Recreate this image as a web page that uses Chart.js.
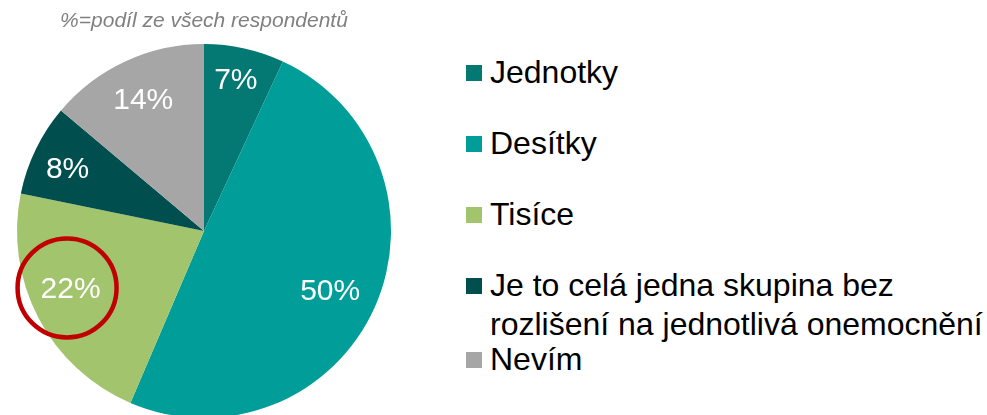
<!DOCTYPE html>
<html lang="cs">
<head>
<meta charset="utf-8">
<script src="https://cdn.jsdelivr.net/npm/chart.js@4"></script>
<style>
  html, body { margin: 0; padding: 0; background: #fff; }
  body { width: 987px; height: 415px; position: relative; overflow: hidden; font-family: Arial, "Liberation Sans", sans-serif; }
  #wrap { position: absolute; left: 0; top: 0; width: 408px; height: 420px; }
  #poznamka { position: absolute; left: 0; width: 408px; top: 8px; text-align: center; font-style: italic; font-size: 21px; color: #808080; }
  #legenda { position: absolute; left: 466px; top: 0; }
  .polozka { position: absolute; left: 0; white-space: nowrap; font-size: 32px; color: #000; line-height: 39px; }
  .ctverec { position: absolute; left: 0; top: 12px; width: 16px; height: 16px; }
  .text { margin-left: 24px; }
</style>
</head>
<body>
<div id="wrap"><canvas id="kolac" width="408" height="420"></canvas></div>
<div id="poznamka">%=podíl ze všech respondentů</div>
<div id="legenda"></div>
<script>
// kategorie a hodnoty (v %)
const kategorie = ['Jednotky', 'Desítky', 'Tisíce', 'Je to celá jedna skupina bez\nrozlišení na jednotlivá onemocnění', 'Nevím'];
const hodnoty = [7, 50, 22, 8, 14];
const barvy = ['#047873', '#009d99', '#a2c46c', '#004f4e', '#a6a6a6'];
const zvyraznena = 2; // červený kroužek kolem "22%"

// umístění popisků: [posun úhlu ve stupních, podíl poloměru]
const popiskyPos = [[-0.5, 0.82], [1.8, 0.75], [3.8, 0.78], [-1.6, 0.8], [0, 0.77]];

// pozice legendy (horní hrana řádku)
const legendaTop = [53, 124, 195, 266, 340];

const legenda = document.getElementById('legenda');
kategorie.forEach((k, i) => {
    const div = document.createElement('div');
    div.className = 'polozka';
    div.style.top = legendaTop[i] + 'px';
    const sq = document.createElement('span');
    sq.className = 'ctverec';
    sq.style.background = barvy[i];
    div.appendChild(sq);
    k.split('\n').forEach(radek => {
        const t = document.createElement('div');
        t.className = 'text';
        t.textContent = radek;
        div.appendChild(t);
    });
    legenda.appendChild(div);
});

// popisky procent uvnitř výsečí + kroužek
const popisky = {
    id: 'popisky',
    afterDatasetsDraw(chart) {
        const ctx = chart.ctx;
        const meta = chart.getDatasetMeta(0);
        ctx.save();
        ctx.font = '30px Arial, "Liberation Sans", sans-serif';
        ctx.fillStyle = '#fff';
        ctx.textAlign = 'center';
        ctx.textBaseline = 'middle';
        meta.data.forEach((arc, i) => {
            const p = arc.getProps(['x', 'y', 'startAngle', 'endAngle', 'outerRadius'], true);
            const mid = (p.startAngle + p.endAngle) / 2 + popiskyPos[i][0] * Math.PI / 180;
            const r = p.outerRadius * popiskyPos[i][1];
            const x = p.x + Math.cos(mid) * r;
            const y = p.y + Math.sin(mid) * r;
            ctx.fillText(hodnoty[i] + '%', x, y);
            if (i === zvyraznena) {
                ctx.beginPath();
                ctx.strokeStyle = '#c00000';
                ctx.lineWidth = 4.5;
                ctx.arc(x - 3.5, y - 2, 49.5, 0, Math.PI * 2);
                ctx.stroke();
            }
        });
        ctx.restore();
    }
};

new Chart(document.getElementById('kolac'), {
    type: 'pie',
    data: {
        labels: kategorie,
        datasets: [{
            data: hodnoty,
            backgroundColor: barvy,
            borderWidth: 0
        }]
    },
    options: {
        responsive: false,
        animation: false,
        layout: { padding: { left: 17, right: 17, top: 44, bottom: 2 } },
        plugins: { legend: { display: false }, tooltip: { enabled: false } }
    },
    plugins: [popisky]
});
</script>
</body>
</html>
